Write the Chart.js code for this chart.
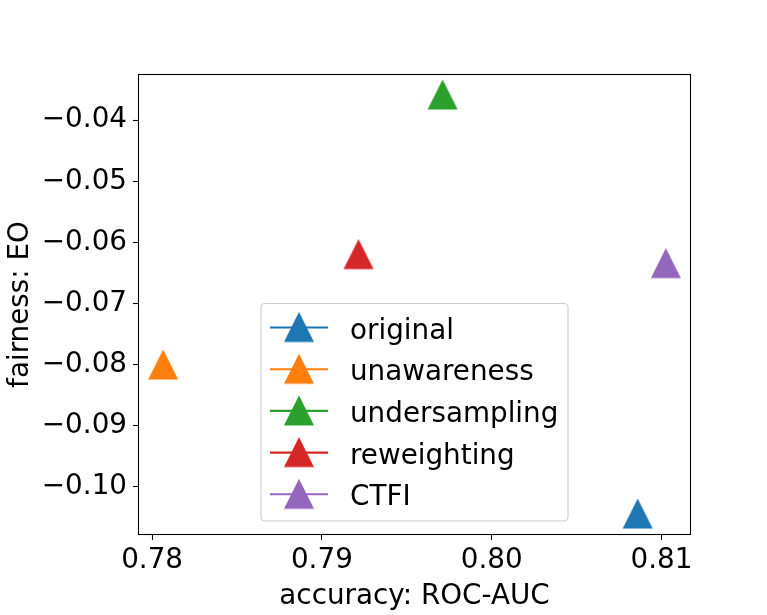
<!DOCTYPE html>
<html>
<head>
<meta charset="utf-8">
<script src="https://cdn.jsdelivr.net/npm/chart.js@4.4.0/dist/chart.umd.min.js"></script>
<style>
  body { margin: 0; background: #fff; }
</style>
</head>
<body>
<canvas id="myChart" width="767" height="615"></canvas>
<script>
const methods = ["original", "unawareness", "undersampling", "reweighting", "CTFI"];
const accuracy = [0.8086, 0.78065, 0.79711, 0.79216, 0.81026];
const fairness = [-0.10447, -0.08008, -0.03587, -0.0620, -0.06347];
const colors = ["#1f77b4", "#ff7f0e", "#2ca02c", "#d62728", "#9467bd"];
const xTicks = [0.78, 0.79, 0.80, 0.81];
const yTicks = [-0.04, -0.05, -0.06, -0.07, -0.08, -0.09, -0.10];

const FONT = "'DejaVu Sans', sans-serif";
const FONT_SIZE = 27.8;

// matplotlib style "^" marker, drawn once per colour
function triangleMarker(color) {
  const c = document.createElement("canvas");
  c.width = 32;
  c.height = 32;
  const g = c.getContext("2d");
  const h = 13.9;
  g.beginPath();
  g.moveTo(16, 16 - h);
  g.lineTo(16 - h, 16 + h);
  g.lineTo(16 + h, 16 + h);
  g.closePath();
  g.fillStyle = color;
  g.strokeStyle = color;
  g.lineWidth = 1.4;
  g.fill();
  g.stroke();
  return c;
}

// 5% margins like matplotlib autoscale
function padRange(values) {
  const lo = Math.min(...values), hi = Math.max(...values);
  const m = (hi - lo) * 0.05;
  return [lo - m, hi + m];
}
const xRange = padRange(accuracy);
const yRange = padRange(fairness);

const datasets = methods.map((name, i) => ({
  label: name,
  data: [{ x: accuracy[i], y: fairness[i] }],
  pointStyle: triangleMarker(colors[i]),
  pointRadius: 14,
  backgroundColor: colors[i],
  borderColor: colors[i],
}));

const framePlugin = {
  id: "frame",
  afterDraw(chart) {
    const a = chart.chartArea;
    const ctx = chart.ctx;
    ctx.save();
    ctx.strokeStyle = "#000";
    ctx.lineWidth = 1.1;
    ctx.strokeRect(a.left + 0.5, a.top + 0.5, a.right - a.left - 1, a.bottom - a.top - 1);
    ctx.restore();
  }
};

const legendPlugin = {
  id: "mplLegend",
  afterDraw(chart) {
    const ctx = chart.ctx;
    const box = { x: 261, y: 303.5, w: 307, h: 217.5, r: 4 };
    ctx.save();
    ctx.beginPath();
    ctx.roundRect(box.x, box.y, box.w, box.h, box.r);
    ctx.fillStyle = "rgba(255,255,255,0.8)";
    ctx.fill();
    ctx.strokeStyle = "#cccccc";
    ctx.lineWidth = 1.1;
    ctx.stroke();

    ctx.font = FONT_SIZE + "px " + FONT;
    ctx.textBaseline = "alphabetic";
    ctx.textAlign = "left";
    chart.data.datasets.forEach((ds, i) => {
      const cy = 327.5 + i * 41.7;
      ctx.beginPath();
      ctx.moveTo(270, cy);
      ctx.lineTo(328, cy);
      ctx.strokeStyle = ds.borderColor;
      ctx.lineWidth = 2.1;
      ctx.stroke();
      const img = ds.pointStyle;
      ctx.drawImage(img, 299 - img.width / 2, cy - img.height / 2);
      ctx.fillStyle = "#000";
      ctx.fillText(ds.label, 350, cy + 11);
    });
    ctx.restore();
  }
};

function minusFormat(v) {
  const s = Math.abs(v).toFixed(2);
  return v < 0 ? "\u2212" + s : s;
}

const ctx = document.getElementById("myChart").getContext("2d");
const myChart = new Chart(ctx, {
  type: "scatter",
  data: { datasets: datasets },
  plugins: [framePlugin, legendPlugin],
  options: {
    responsive: false,
    animation: false,
    devicePixelRatio: 1,
    layout: { padding: { left: 0, top: 74, right: 76, bottom: 0 } },
    plugins: {
      legend: { display: false },
      tooltip: { enabled: false },
    },
    scales: {
      x: {
        type: "linear",
        min: xRange[0],
        max: xRange[1],
        afterBuildTicks: (scale) => { scale.ticks = xTicks.map(v => ({ value: v })); },
        afterFit: (scale) => { scale.height = 80; },
        grid: { drawOnChartArea: false, drawTicks: true, tickLength: 5, tickWidth: 1.1, tickColor: "#000" },
        border: { display: false },
        ticks: {
          color: "#000",
          padding: 4,
          maxRotation: 0,
          font: { family: FONT, size: FONT_SIZE },
          callback: (v) => v.toFixed(2),
        },
        title: {
          display: true,
          text: "accuracy: ROC-AUC",
          color: "#000",
          padding: { top: 0, bottom: 2 },
          font: { family: FONT, size: FONT_SIZE },
        },
      },
      y: {
        type: "linear",
        min: yRange[0],
        max: yRange[1],
        afterBuildTicks: (scale) => { scale.ticks = yTicks.map(v => ({ value: v })); },
        afterFit: (scale) => { scale.width = 138; },
        grid: { drawOnChartArea: false, drawTicks: true, tickLength: 5, tickWidth: 1.1, tickColor: "#000" },
        border: { display: false },
        ticks: {
          color: "#000",
          padding: 6,
          font: { family: FONT, size: FONT_SIZE },
          callback: (v) => minusFormat(v),
        },
        title: {
          display: true,
          text: "fairness: EO",
          color: "#000",
          padding: { top: 4, bottom: 0 },
          font: { family: FONT, size: FONT_SIZE },
        },
      },
    },
  },
});
</script>
</body>
</html>
